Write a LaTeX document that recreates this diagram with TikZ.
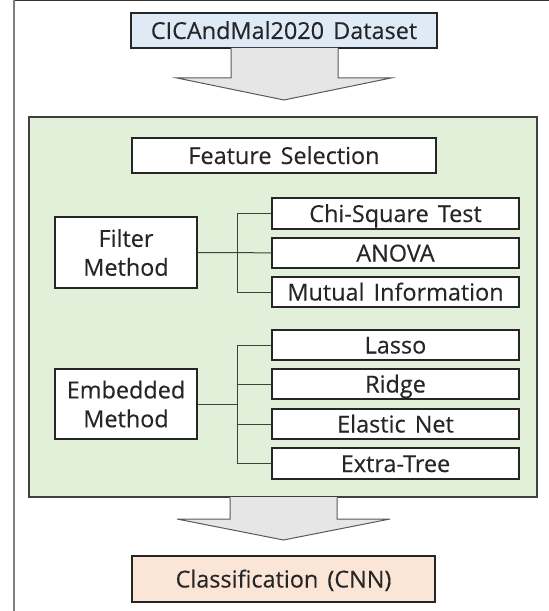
\documentclass[tikz,border=0pt]{standalone}
\usepackage{fontspec}
\setmainfont[WordSpace=1.5,FakeBold=0.3]{Open Sans}
\definecolor{dsblue}{HTML}{DEEBF7}
\definecolor{fsgreen}{HTML}{E2F0D9}
\definecolor{clsorange}{HTML}{FBE5D6}
\definecolor{arrowgray}{HTML}{E7E6E6}
\definecolor{edgegray}{HTML}{595959}
\begin{document}
\begin{tikzpicture}[x=1bp,y=-1bp,
  box/.style={draw=black!85, line width=1.1bp, inner sep=0pt, align=center,
    font=\fontsize{23.5}{29}\selectfont, text=black!85},
  oneline/.style={text height=22bp, text depth=5bp},
  leaf/.style={box, oneline, fill=white, minimum width=247bp, minimum height=30bp},
  method/.style={box, fill=white, minimum width=142bp, minimum height=70bp},
  blockarrow/.style={fill=arrowgray, draw=edgegray, line width=1bp, line join=miter},
  link/.style={draw=black!75, line width=1bp}]
\useasboundingbox (0,0) rectangle (549,611);
% frame
\draw[black!80, line width=1bp] (14,1) -- (549,1);
\draw[gray, line width=2bp] (14,0.5) -- (14,611);
% top box
\node[box, oneline, fill=dsblue, minimum width=306bp, minimum height=35bp] (data) at (284,30.5) {CICAndMal2020 Dataset};
% green container
\node[box, draw=black!75, fill=fsgreen, minimum width=508bp, minimum height=380bp] (green) at (283,307) {};
% upper block arrow
\fill[arrowgray] (231,48) -- (231,78) -- (177,78) -- (284,100) -- (391,78) -- (338,78) -- (338,48) -- cycle;
\draw[blockarrow, fill=none] (231,48.5) -- (231,78) -- (177,78) -- (284,100) -- (391,78) -- (338,78) -- (338,48.5);
% lower block arrow
\fill[arrowgray] (230,497) -- (230,519) -- (177,519) -- (283.5,540) -- (390,519) -- (337,519) -- (337,497) -- cycle;
\draw[blockarrow, fill=none] (230,497.5) -- (230,519) -- (177,519) -- (283.5,540) -- (390,519) -- (337,519) -- (337,497.5);
% feature selection
\node[box, oneline, fill=white, minimum width=304bp, minimum height=35bp] (fs) at (284,155.5) {Feature Selection};
% filter method
\node[method, minimum height=71bp] (filter) at (126,252.5) {Filter\\Method};
\node[leaf, minimum height=31bp] (chi) at (395.5,213.5) {Chi-Square Test};
\node[leaf] (anova) at (395.5,253) {ANOVA};
\node[leaf] (mutual) at (395.5,292) {Mutual Information};
\coordinate (fj) at (237,253);
\draw[link] (chi.west) -- (chi.west -| fj) -- (mutual.west -| fj) -- (mutual.west);
\draw[link] (filter.east) -- (filter.east -| fj) -- (anova.west);
% embedded method
\node[method] (emb) at (126,404) {Embedded\\Method};
\node[leaf] (lasso) at (395.5,345) {Lasso};
\node[leaf] (ridge) at (395.5,384) {Ridge};
\node[leaf] (elastic) at (395.5,424) {Elastic Net};
\node[leaf, minimum height=31bp] (extra) at (395.5,463.5) {Extra-Tree};
\coordinate (ej) at (237,404);
\draw[link] (lasso.west) -- (lasso.west -| ej) -- (extra.west -| ej) -- (extra.west);
\draw[link] (ridge.west) -- (ridge.west -| ej);
\draw[link] (elastic.west) -- (elastic.west -| ej);
\draw[link] (emb.east) -- (emb.east -| ej);
% classification
\node[box, oneline, fill=clsorange, minimum width=303bp, minimum height=46bp] (cls) at (283.5,579) {Classification (CNN)};
\end{tikzpicture}
\end{document}
